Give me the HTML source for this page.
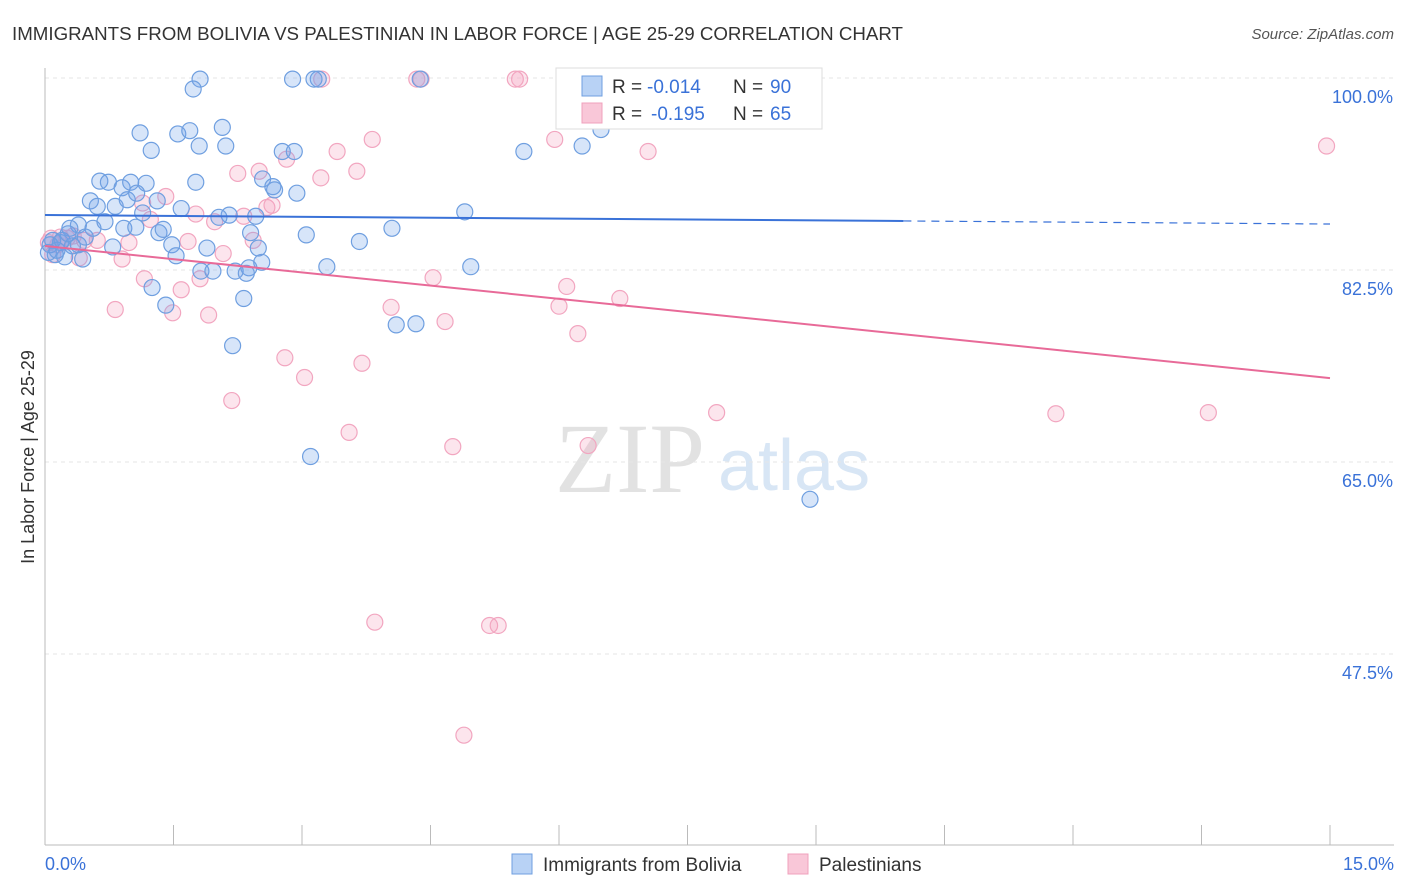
<!DOCTYPE html>
<html><head><meta charset="utf-8"><style>
body{margin:0;background:#fff;font-family:"Liberation Sans",sans-serif;}
#wrap{position:relative;width:1406px;height:892px;overflow:hidden;}
</style></head><body>
<div id="wrap">
<svg id="chart" width="1406" height="892">
<text x="12" y="40" font-size="18" fill="#333" textLength="891" lengthAdjust="spacingAndGlyphs">IMMIGRANTS FROM BOLIVIA VS PALESTINIAN IN LABOR FORCE | AGE 25-29 CORRELATION CHART</text>
<text x="1394" y="39" font-size="15" fill="#555" font-style="italic" text-anchor="end">Source: ZipAtlas.com</text>
<text x="555" y="492" font-size="100" fill="#e2e2e2" font-family="Liberation Serif">ZIP</text>
<text x="718" y="490" font-size="72" fill="#d8e6f5">atlas</text>
<g id="grid"></g>
<g id="axes"></g>
<g id="pts"></g>
<g id="trend"></g>
<text transform="translate(34,457) rotate(-90)" font-size="18" fill="#333" text-anchor="middle">In Labor Force | Age 25-29</text>
<g>
<rect x="556" y="68" width="266" height="61" fill="#fff" stroke="#ddd"/>
<rect x="582" y="76" width="20" height="20" fill="#b8d2f5" stroke="#6f9fe0"/>
<rect x="582" y="103" width="20" height="20" fill="#f9c7d8" stroke="#f0a0bc"/>
<text x="612" y="93" font-size="19" fill="#333">R =</text>
<text x="647" y="93" font-size="19" fill="#3a72d8">-0.014</text>
<text x="733" y="93" font-size="19" fill="#333">N =</text>
<text x="770" y="93" font-size="19" fill="#3a72d8">90</text>
<text x="612" y="120" font-size="19" fill="#333">R =</text>
<text x="651" y="120" font-size="19" fill="#3a72d8">-0.195</text>
<text x="733" y="120" font-size="19" fill="#333">N =</text>
<text x="770" y="120" font-size="19" fill="#3a72d8">65</text>
</g>
<g>
<rect x="512" y="854" width="20" height="20" fill="#b8d2f5" stroke="#6f9fe0"/>
<text x="543" y="871" font-size="19" fill="#333">Immigrants from Bolivia</text>
<rect x="788" y="854" width="20" height="20" fill="#f9c7d8" stroke="#f0a0bc"/>
<text x="819" y="871" font-size="19" fill="#333">Palestinians</text>
</g>
</svg>
</div>
<script>
const yTicks=[100,82.5,65,47.5];
const yTickLabels=["100.0%","82.5%","65.0%","47.5%"];
const xTickVals=[0,1.5,3,4.5,6,7.5,9,10.5,12,13.5,15];
const xEndLabels=["0.0%","15.0%"];
const blueX=[1.81,1.73,2.89,3.19,3.14,4.38,6.83,1.11,1.55,1.69,2.07,1.24,1.80,2.11,2.77,2.91,6.49,6.27,5.59,0.64,0.74,0.90,1.18,1.00,1.76,2.54,2.66,2.68,2.94,0.53,0.61,0.82,0.96,1.07,1.31,1.59,2.15,2.03,2.46,4.90,0.39,0.29,0.56,0.70,0.92,1.06,1.14,1.33,1.38,3.05,3.67,4.05,0.09,0.18,0.32,0.39,0.44,0.23,0.12,0.79,1.48,1.53,1.89,2.40,1.82,1.96,2.22,2.38,2.35,2.53,3.29,4.97,1.25,1.41,2.32,4.10,4.33,2.19,3.10,8.93,0.06,0.04,0.14,0.20,0.47,0.27,2.49];
const blueY=[99.9,99.0,99.9,99.9,99.9,99.9,99.9,95.0,94.9,95.2,95.5,93.4,93.8,93.8,93.3,93.3,95.3,93.8,93.3,90.6,90.5,90.0,90.4,90.5,90.5,90.8,90.1,89.8,89.5,88.8,88.3,88.3,88.9,89.5,88.8,88.1,87.5,87.3,87.4,87.8,86.6,86.3,86.3,86.9,86.3,86.4,87.7,85.9,86.2,85.7,85.1,86.3,85.2,85.0,84.7,84.8,83.5,83.7,83.9,84.6,84.8,83.8,84.5,85.9,82.4,82.4,82.4,82.7,82.2,83.2,82.8,82.8,80.9,79.3,79.9,77.5,77.6,75.6,65.5,61.6,84.8,84.1,84.3,85.2,85.5,85.8,84.5];
const pinkX=[4.34,4.39,3.23,5.49,5.54,5.95,7.04,3.82,14.96,3.41,3.22,3.64,2.50,2.25,2.82,1.41,1.14,1.23,1.76,2.32,2.59,2.65,1.98,2.43,1.67,0.98,0.61,0.46,0.07,0.18,0.26,0.09,0.40,0.90,2.08,1.16,1.59,1.81,0.82,1.49,1.91,4.53,6.09,6.71,4.04,6.00,4.67,6.22,2.80,3.03,3.70,2.18,3.55,7.84,11.80,13.58,4.76,6.34,3.85,5.19,5.29,4.89,0.04,0.15,0.33];
const pinkY=[99.9,99.9,99.9,99.9,99.9,94.4,93.3,94.4,93.8,93.3,90.9,91.5,91.5,91.3,92.6,89.2,88.6,87.1,87.6,87.4,88.2,88.4,86.9,85.2,85.1,85.0,85.2,85.2,85.4,85.5,85.4,83.9,83.6,83.5,84.0,81.7,80.7,81.7,78.9,78.6,78.4,81.8,81.0,79.9,79.1,79.2,77.8,76.7,74.5,72.7,74.0,70.6,67.7,69.5,69.4,69.5,66.4,66.5,50.4,50.1,50.1,40.1,85.0,84.8,85.6];
const blueTrendX=[0,10.02,15];
const blueTrendY=[87.51,86.97,86.69];
const pinkTrendX=[0,15];
const pinkTrendY=[84.69,72.65];

const NS="http://www.w3.org/2000/svg";
function sx(v){return 45+v/15*1285;}
function sy(v){return 78+(100-v)/17.5*192;}
function mk(tag,attrs,parent){const e=document.createElementNS(NS,tag);for(const k in attrs)e.setAttribute(k,attrs[k]);parent.appendChild(e);return e;}
const grid=document.getElementById('grid'),axes=document.getElementById('axes'),pts=document.getElementById('pts'),trend=document.getElementById('trend');
yTicks.forEach((t,i)=>{
 const l=mk('line',{x1:45,x2:1394,y1:sy(t),y2:sy(t),stroke:'#e6e6e6','stroke-dasharray':'4,4'},grid);
 
 
 const tx=mk('text',{x:1393,y:sy(t)+25,'font-size':18,fill:'#3a72d8','text-anchor':'end'},axes);
 tx.textContent=yTickLabels[i];
 
 
});
const ax=mk('line',{x1:45,x2:1394,y1:845,y2:845,stroke:'#bbb'},axes);


const ay=mk('line',{x1:45,x2:45,y1:68,y2:845,stroke:'#bbb'},axes);


xTickVals.forEach(t=>{
 const l=mk('line',{x1:sx(t),x2:sx(t),y1:825,y2:845,stroke:'#bbb'},axes);
 
 
});
[[0,'start',45],[15,'end',1394]].forEach((d,i)=>{
 const tx=mk('text',{x:d[2],y:870,'font-size':18,fill:'#3a72d8','text-anchor':d[1]},axes);
 tx.textContent=xEndLabels[i];
 
 
});
pinkX.forEach((x,i)=>{
 const c=mk('circle',{cx:sx(x),cy:sy(pinkY[i]),r:8,fill:'rgba(245,160,190,0.28)',stroke:'#f2a6c0','stroke-width':1.2},pts);
 
 
});
blueX.forEach((x,i)=>{
 const c=mk('circle',{cx:sx(x),cy:sy(blueY[i]),r:8,fill:'rgba(110,160,235,0.28)',stroke:'#6f9fe0','stroke-width':1.2},pts);
 
 
});
const b1=mk('line',{x1:sx(blueTrendX[0]),y1:sy(blueTrendY[0]),x2:sx(blueTrendX[1]),y2:sy(blueTrendY[1]),stroke:'#3a72d8','stroke-width':2},trend);


const b2=mk('line',{x1:sx(blueTrendX[1]),y1:sy(blueTrendY[1]),x2:sx(blueTrendX[2]),y2:sy(blueTrendY[2]),stroke:'#3a72d8','stroke-width':1.2,'stroke-dasharray':'8,6'},trend);


const p1=mk('line',{x1:sx(pinkTrendX[0]),y1:sy(pinkTrendY[0]),x2:sx(pinkTrendX[1]),y2:sy(pinkTrendY[1]),stroke:'#e86a98','stroke-width':2},trend);


</script>
</body></html>
